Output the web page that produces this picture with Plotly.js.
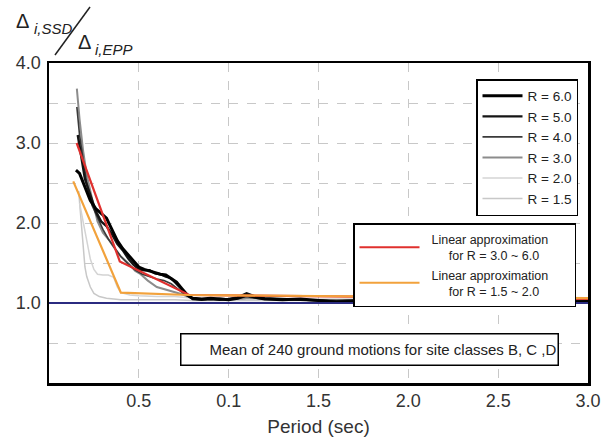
<!DOCTYPE html>
<html>
<head>
<meta charset="utf-8">
<script src="https://cdn.plot.ly/plotly-3.0.1.min.js"></script>
<style>html,body{margin:0;padding:0;background:#fff}#chart{width:602px;height:437px}</style>
</head>
<body>
<div id="chart"></div>
<script>
// ---- data ----
var tailPeriod = [0.80,0.85,0.90,0.95,1.0,1.05,1.1,1.15,1.2,1.3,1.4,1.5,1.6,1.7,1.8,1.9,2.0,2.1,2.2,2.3,2.4,2.5,2.6,2.7,2.8,2.9,3.0];

var r60Period = [0.15,0.17,0.20,0.23,0.26,0.29,0.32,0.35,0.38,0.41,0.44,0.47,0.50,0.53,0.56,0.59,0.62,0.65,0.68,0.71,0.74,0.77];
var r60Ratio  = [2.66,2.62,2.45,2.28,2.18,2.12,2.06,1.92,1.78,1.68,1.60,1.52,1.45,1.42,1.40,1.38,1.36,1.35,1.30,1.26,1.18,1.10];
var r60Tail   = [1.06,1.05,1.06,1.05,1.04,1.06,1.10,1.07,1.05,1.04,1.05,1.03,1.01,1.02,1.04,1.04,1.03,1.03,1.04,1.03,1.04,1.03,1.02,0.98,1.00,1.01,1.02];

var r50Period = [0.16,0.18,0.20,0.23,0.26,0.29,0.32,0.35,0.38,0.41,0.44,0.47,0.50,0.53,0.56,0.59,0.62,0.65,0.68,0.71,0.74,0.77];
var r50Ratio  = [3.10,2.85,2.55,2.35,2.15,2.02,1.96,1.86,1.74,1.66,1.56,1.48,1.42,1.41,1.41,1.37,1.36,1.33,1.31,1.24,1.17,1.10];
var r50Tail   = [1.05,1.04,1.05,1.04,1.05,1.07,1.12,1.08,1.06,1.05,1.04,1.03,1.02,1.03,1.04,1.05,1.04,1.04,1.03,1.04,1.04,1.03,1.04,1.00,1.01,1.02,1.02];

var r40Period = [0.155,0.17,0.19,0.21,0.24,0.27,0.30,0.33,0.36,0.40,0.44,0.48,0.52,0.56,0.60,0.64,0.68,0.72,0.76];
var r40Ratio  = [3.45,3.10,2.80,2.50,2.22,2.06,1.92,1.80,1.70,1.58,1.49,1.41,1.36,1.33,1.30,1.28,1.24,1.17,1.10];
var r40Tail   = [1.06,1.05,1.05,1.06,1.05,1.06,1.08,1.06,1.05,1.05,1.04,1.04,1.03,1.04,1.04,1.04,1.04,1.03,1.04,1.04,1.04,1.04,1.03,1.02,1.02,1.03,1.03];

var r30Period = [0.155,0.17,0.19,0.21,0.24,0.27,0.30,0.33,0.36,0.40,0.44,0.48,0.51,0.55,0.60,0.65,0.70,0.74,0.77];
var r30Ratio  = [3.68,3.30,2.90,2.60,2.30,2.02,1.88,1.80,1.70,1.58,1.50,1.40,1.36,1.28,1.20,1.17,1.14,1.11,1.08];
var r30Tail   = [1.06,1.05,1.04,1.05,1.05,1.05,1.06,1.06,1.05,1.05,1.04,1.04,1.04,1.04,1.05,1.04,1.04,1.04,1.05,1.04,1.05,1.05,1.06,1.04,1.03,1.04,1.04];

var r20Period = [0.17,0.19,0.21,0.23,0.25,0.27,0.30,0.33,0.36,0.38,0.40,0.45,0.50,0.60,0.70];
var r20Ratio  = [2.25,2.00,1.75,1.55,1.42,1.36,1.35,1.35,1.32,1.20,1.13,1.10,1.09,1.08,1.08];
var r20Tail   = [1.06,1.05,1.05,1.05,1.04,1.04,1.05,1.05,1.04,1.04,1.04,1.04,1.04,1.04,1.04,1.04,1.04,1.04,1.04,1.04,1.04,1.04,1.04,1.04,1.04,1.04,1.04];

var r15Period = [0.165,0.18,0.19,0.20,0.21,0.23,0.25,0.28,0.32,0.40,0.50,0.60,0.70];
var r15Ratio  = [2.40,2.00,1.70,1.45,1.33,1.20,1.12,1.08,1.06,1.04,1.04,1.04,1.04];
var r15Tail   = [1.03,1.03,1.03,1.03,1.03,1.03,1.03,1.03,1.03,1.03,1.03,1.03,1.03,1.03,1.03,1.03,1.03,1.03,1.03,1.03,1.03,1.03,1.03,1.03,1.03,1.03,1.03];

var linHighPeriod = [0.154,0.394,0.78,3.0];
var linHighRatio  = [3.00,1.52,1.10,1.05];
var linLowPeriod  = [0.135,0.40,0.78,3.0];
var linLowRatio   = [2.52,1.13,1.10,1.06];

var basePeriod = [0, 3];
var baseRatio  = [1.0, 1.0];

var xTickVals = [0,0.5,1.0,1.5,2.0,2.5,3.0];
var xTickText = ['','0.5','0.1','1.5','2.0','2.5','3.0'];
var yTickVals = [0,0.5,1.0,1.5,2.0,2.5,3.0,3.5,4.0];
var yTickText = ['','','1.0','','2.0','','3.0','','4.0'];

var FONT = 'Liberation Sans, Arial, Helvetica, sans-serif';
var NB = '\u00a0';

function rTrace(name, px, py, tail, color, width, rank) {
  return {
    type: 'scatter', mode: 'lines', name: name,
    x: px.concat(tailPeriod), y: py.concat(tail),
    line: {color: color, width: width},
    legend: 'legend', legendrank: rank
  };
}

var traces = [
  rTrace('R = 1.5', r15Period, r15Ratio, r15Tail, '#c8c8c8', 1.5, 6),
  rTrace('R = 2.0', r20Period, r20Ratio, r20Tail, '#d4d4d4', 1.5, 5),
  rTrace('R = 3.0', r30Period, r30Ratio, r30Tail, '#8c8c8c', 2, 4),
  rTrace('R = 4.0', r40Period, r40Ratio, r40Tail, '#3a3a3a', 1.6, 3),
  rTrace('R = 5.0', r50Period, r50Ratio, r50Tail, '#151515', 2.4, 2),
  rTrace('R = 6.0', r60Period, r60Ratio, r60Tail, '#000000', 3, 1),
  {type:'scatter', mode:'lines',
   name: NB+NB+'Linear approximation'+NB+NB+NB+NB+NB+NB+'<br>'+NB+NB+NB+NB+NB+NB+NB+'for R = 3.0 ~ 6.0',
   x: linHighPeriod, y: linHighRatio, line:{color:'#e0302e', width:2.2}, legend:'legend2', legendrank:1},
  {type:'scatter', mode:'lines',
   name: NB+NB+'Linear approximation'+NB+NB+NB+NB+NB+NB+'<br>'+NB+NB+NB+NB+NB+NB+NB+'for R = 1.5 ~ 2.0',
   x: linLowPeriod, y: linLowRatio, line:{color:'#f2a23c', width:2.2}, legend:'legend2', legendrank:2},
  {type:'scatter', mode:'lines', showlegend:false,
   x: basePeriod, y: baseRatio, line:{color:'#2b2b80', width:2}}
];

function px2x(p){ return (p-49)/539; }
function px2y(p){ return (383-p)/320; }

var layout = {
  width: 602, height: 437,
  margin: {l:49, r:14, t:63, b:54},
  paper_bgcolor: '#fff', plot_bgcolor: '#fff',
  font: {family: FONT, color: '#222'},
  showlegend: true,
  xaxis: {
    range: [0, 3], tickmode: 'array', tickvals: xTickVals, ticktext: xTickText,
    showgrid: true, gridcolor: '#c8c8c8', griddash: 'dash', gridwidth: 1,
    zeroline: false, showline: true, mirror: true, linecolor: '#000', linewidth: 2.5,
    ticks: '', ticklabelstandoff: 0,
    tickfont: {size: 18, color: '#333', family: FONT},
    title: {text: 'Period (sec)', font: {size: 19, color: '#333', family: FONT}, standoff: 14}
  },
  yaxis: {
    range: [0, 4], tickmode: 'array', tickvals: yTickVals, ticktext: yTickText,
    showgrid: true, gridcolor: '#c8c8c8', griddash: 'dash', gridwidth: 1,
    zeroline: false, showline: true, mirror: true, linecolor: '#000', linewidth: 2.5,
    ticks: '', ticklabelstandoff: 2,
    tickfont: {size: 18, color: '#333', family: FONT}
  },
  legend: {
    x: px2x(476), y: px2y(79), xanchor: 'left', yanchor: 'top',
    bgcolor: '#fff', bordercolor: '#000', borderwidth: 1.5,
    font: {size: 13.5, color: '#222', family: FONT}, tracegroupgap: 0, itemwidth: 40,
    traceorder: 'normal'
  },
  legend2: {
    x: px2x(353), y: px2y(223), xanchor: 'left', yanchor: 'top',
    bgcolor: '#fff', bordercolor: '#000', borderwidth: 1.5,
    font: {size: 12.5, color: '#222', family: FONT}, itemwidth: 60, tracegroupgap: 0
  },
  shapes: [
    {type:'line', xref:'paper', yref:'paper', x0:px2x(55), y0:px2y(55), x1:px2x(90), y1:px2y(7),
     line:{color:'#222', width:1.5}}
  ],
  annotations: [
    {xref:'paper', yref:'paper', x:px2x(14), y:px2y(21), xanchor:'left', yanchor:'middle',
     text:'Δ', showarrow:false, font:{size:20, color:'#222', family:FONT}},
    {xref:'paper', yref:'paper', x:px2x(32), y:px2y(28), xanchor:'left', yanchor:'middle',
     text:'<i>i,SSD</i>', showarrow:false, font:{size:15, color:'#222', family:FONT}},
    {xref:'paper', yref:'paper', x:px2x(76), y:px2y(42), xanchor:'left', yanchor:'middle',
     text:'Δ', showarrow:false, font:{size:20, color:'#222', family:FONT}},
    {xref:'paper', yref:'paper', x:px2x(93), y:px2y(49), xanchor:'left', yanchor:'middle',
     text:'<i>i,EPP</i>', showarrow:false, font:{size:15, color:'#222', family:FONT}},
    {xref:'paper', yref:'paper', x:px2x(369.5), y:px2y(349), xanchor:'center', yanchor:'middle',
     text:'Mean of 240 ground motions for site classes B, C ,D', showarrow:false,
     width: 374, height: 28, align: 'right', borderwidth: 1.5, bordercolor: '#000', borderpad: 1,
     bgcolor: '#fff', font:{size:15, color:'#222', family:FONT}}
  ]
};

Plotly.newPlot('chart', traces, layout, {displayModeBar: false, staticPlot: true});
</script>
</body>
</html>
